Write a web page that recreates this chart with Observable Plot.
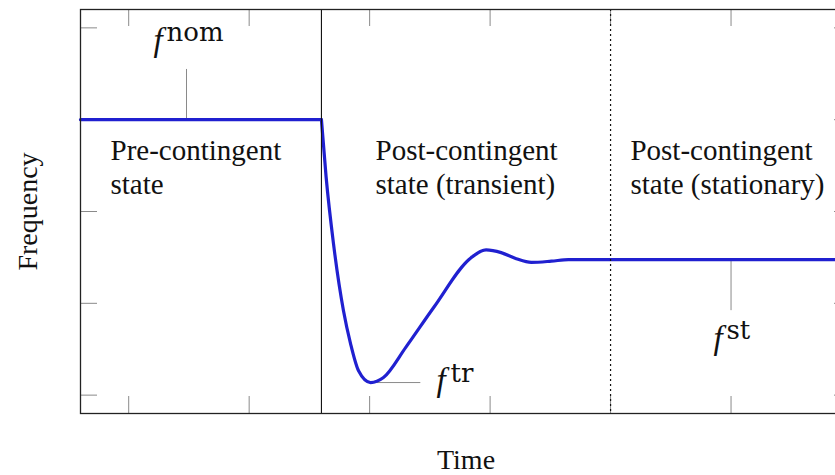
<!DOCTYPE html>
<html>
<head>
<meta charset="utf-8">
<script src="https://cdn.jsdelivr.net/npm/d3@7"></script>
<script src="https://cdn.jsdelivr.net/npm/@observablehq/plot@0.6"></script>
<style>
  html, body { margin: 0; padding: 0; background: #fff; overflow: hidden; }
  #chart svg { max-width: none !important; display: block; }
</style>
</head>
<body>
<div id="chart"></div>
<script>
// Frequency trajectory before and after a contingency (arbitrary units)
const preTime = [0.6, 2.6];
const preFreq = [3, 3];

const postTime = [2.6, 2.639, 2.70, 2.783, 2.842, 2.908, 3.008, 3.115, 3.30, 3.533, 3.842, 3.967, 4.092, 4.217, 4.342, 4.508, 4.65, 4.85, 5.0, 7.0];
const postFreq = [3, 2.373, 1.65, 0.919, 0.559, 0.265, 0.137, 0.192, 0.52, 0.957, 1.497, 1.581, 1.552, 1.486, 1.446, 1.459, 1.476, 1.475, 1.475, 1.475];

// Boundaries between the three operating states
const contingencyTime = 2.6;
const stationaryTime = 5.0;

// Key frequencies
const fNom = 3;
const fTrTime = 3.008;
const fTr = 0.137;
const fSt = 1.475;

// Unlabelled tick positions
const xTicks = [1, 2, 3, 4, 5, 6];
const yTicks = [0, 1, 2, 3, 4];

const stateLabels = ["Pre-contingent\nstate", "Post-contingent\nstate (transient)", "Post-contingent\nstate (stationary)"];
const symbolLabels = ["f", "f", "f"];
const superscripts = ["nom", "tr", "st"];
const axisLabels = {x: "Time", y: "Frequency"};

const pre = preTime.map((t, i) => ({t, f: preFreq[i]}));
const post = postTime.map((t, i) => ({t, f: postFreq[i]}));

const serif = "Liberation Serif, Times New Roman, serif";
const supFont = "DejaVu Serif, serif";
const tickColor = "#8a8a8a";
const blue = "#2020d0";

const W = 852, H = 475, mL = 80, mR = 1, mT = 9, mB = 62;
const frameW = W - mL - mR, frameH = H - mT - mB, tickLen = 17;

const chart = Plot.plot({
  width: W,
  height: H,
  marginLeft: mL,
  marginRight: mR,
  marginTop: mT,
  marginBottom: mB,
  style: {maxWidth: "none", background: "#fff", overflow: "hidden"},
  x: {domain: [0.6, 7.0], axis: null},
  y: {domain: [-0.2, 4.2], axis: null},
  marks: [
    // inward ticks on all four sides
    Plot.tickX(xTicks, {x: d => d, insetTop: frameH - tickLen, stroke: tickColor, strokeWidth: 1}),
    Plot.tickX(xTicks, {x: d => d, insetBottom: frameH - tickLen, stroke: tickColor, strokeWidth: 1}),
    Plot.tickY(yTicks, {y: d => d, insetRight: frameW - tickLen, stroke: tickColor, strokeWidth: 1}),
    Plot.tickY(yTicks, {y: d => d, insetLeft: frameW - tickLen, stroke: tickColor, strokeWidth: 1}),

    // pins for the annotated frequencies
    Plot.ruleX([1.48], {x: d => d, y1: fNom, y2: 3.547, stroke: tickColor, strokeWidth: 1}),
    Plot.ruleY([fTr], {y: d => d, x1: fTrTime, x2: 3.425, stroke: tickColor, strokeWidth: 1}),
    Plot.ruleX([6.0], {x: d => d, y1: 0.92, y2: fSt, stroke: tickColor, strokeWidth: 1}),

    // frequency trajectory
    Plot.line(pre, {x: "t", y: "f", stroke: blue, strokeWidth: 3.2}),
    Plot.line(post, {x: "t", y: "f", stroke: blue, strokeWidth: 3.2, curve: "monotone-x"}),

    // state boundaries
    Plot.ruleX([contingencyTime], {x: d => d, stroke: "#111", strokeWidth: 1.1}),
    Plot.ruleX([stationaryTime], {x: d => d, stroke: "#111", strokeWidth: 1.2, strokeDasharray: "2,3"}),

    // state labels
    Plot.text(stateLabels, {
      x: [0.849, 3.049, 5.165], y: [2.196, 2.196, 2.196], text: d => d,
      textAnchor: "start", lineAnchor: "bottom", lineHeight: 1.17,
      fontFamily: serif, fontSize: 29, fill: "#111"
    }),

    // f annotations: italic symbol plus upright superscript
    Plot.text(symbolLabels, {
      x: [1.206, 3.555, 5.854], y: [3.753, 0.049, 0.5], text: d => d,
      textAnchor: "start", lineAnchor: "bottom",
      fontFamily: serif, fontStyle: "italic", fontSize: 33, fill: "#111"
    }),
    Plot.text(superscripts, {
      x: [1.314, 3.671, 5.962], y: [3.862, 0.138, 0.609], text: d => d,
      textAnchor: "start", lineAnchor: "bottom",
      fontFamily: supFont, fontSize: 26, fill: "#111"
    }),

    // axis labels
    Plot.text([axisLabels.x], {
      frameAnchor: "bottom", text: d => d, dy: 55, lineAnchor: "bottom", textAnchor: "middle",
      fontFamily: serif, fontSize: 28, fill: "#111"
    }),
    Plot.text([axisLabels.y], {
      frameAnchor: "left", text: d => d, dx: -52, rotate: -90, textAnchor: "middle",
      fontFamily: serif, fontSize: 28, fill: "#111"
    }),

    Plot.frame({stroke: "#222", strokeWidth: 1.3})
  ]
});

document.getElementById("chart").appendChild(chart);
</script>
</body>
</html>
